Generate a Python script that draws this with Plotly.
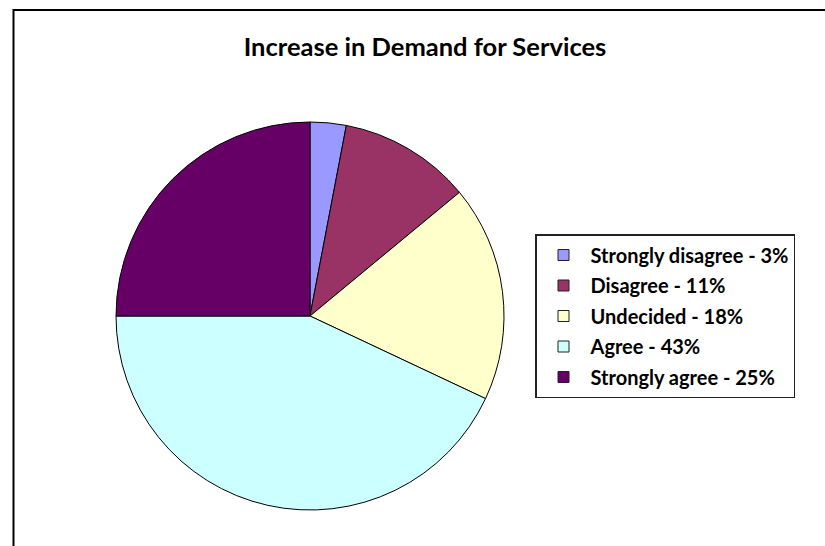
import plotly.graph_objects as go

labels = ["Strongly disagree", "Disagree", "Undecided", "Agree", "Strongly agree"]
values = [3, 11, 18, 43, 25]
colors = ["#9999FF", "#993366", "#FFFFCC", "#CCFFFF", "#660066"]
legend_labels = [f"{l} - {v}%" for l, v in zip(labels, values)]
title_text = "Increase in Demand for Services"

W, H = 825, 546
fig = go.Figure()
fig.add_trace(go.Pie(
    labels=legend_labels, values=values, sort=False, direction="clockwise", rotation=0,
    marker=dict(colors=colors, line=dict(color="black", width=1)),
    textinfo="none", showlegend=False, hoverinfo="label",
    domain=dict(x=[116 / W, 504 / W], y=[1 - 510 / H, 1 - 122 / H]),
))
for lab, col in zip(legend_labels, colors):
    fig.add_trace(go.Scatter(
        x=[None], y=[None], mode="markers", name=lab, legendgroup=lab,
        marker=dict(symbol="square", size=11, color=col, line=dict(color="#222222", width=1)),
    ))

fig.update_layout(
    width=W, height=H, margin=dict(l=0, r=0, t=0, b=0),
    paper_bgcolor="white", plot_bgcolor="white",
    xaxis=dict(visible=False), yaxis=dict(visible=False),
    title=dict(text=title_text, x=425 / W, xanchor="center", y=1 - 47 / H, yanchor="middle",
               font=dict(family="Lato", size=25.5, color="black", weight="bold")),
    legend=dict(x=535 / W, y=1 - 234 / H, xanchor="left", yanchor="top",
                bordercolor="#222222", borderwidth=1.5, bgcolor="white",
                font=dict(family="Lato", size=20, color="black", weight="bold"),
                tracegroupgap=1.5, traceorder="grouped", itemwidth=44),
    shapes=[dict(type="rect", xref="paper", yref="paper", x0=13.5 / W, x1=1.1, y0=-0.1, y1=1 - 10 / H,
                 line=dict(color="black", width=2), fillcolor="rgba(0,0,0,0)", layer="below")],
)
fig.write_html("out.html")
